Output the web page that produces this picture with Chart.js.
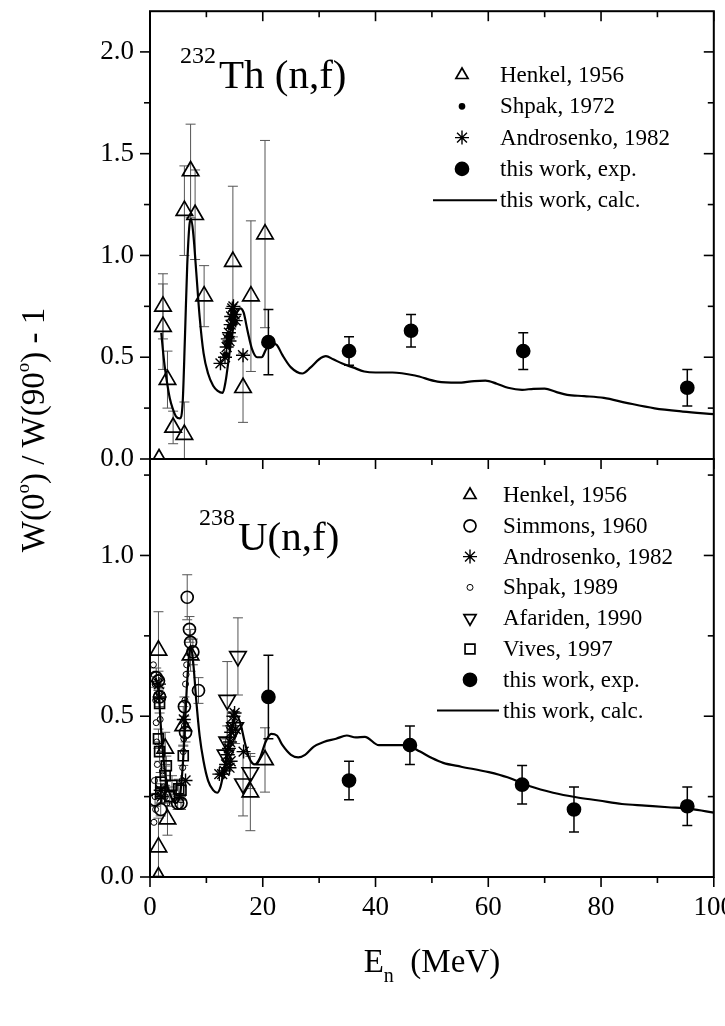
<!DOCTYPE html>
<html>
<head>
<meta charset="utf-8">
<script src="https://cdn.jsdelivr.net/npm/chart.js@4.4.0/dist/chart.umd.min.js"></script>
<style>
  html, body { margin: 0; padding: 0; background: #fff; }
  #wrap { position: relative; width: 725px; height: 1026px; }
  #wrap canvas { position: absolute; left: 0; top: 0; }
</style>
</head>
<body>
<div id="wrap">
  <canvas id="cTh" width="725" height="1026" style="width:725px;height:1026px"></canvas>
  <canvas id="cU" width="725" height="1026" style="width:725px;height:1026px"></canvas>
</div>
<script>
const FONT = '"Liberation Serif", "Times New Roman", serif';

// axis ticks
const xTicks = [0, 20, 40, 60, 80, 100];
const thTicks = [0, 0.5, 1.0, 1.5, 2.0];
const uTicks = [0, 0.5, 1.0];

// ---- 232Th(n,f) ----
const thHenkelE = [1.6, 2.3, 2.3, 3.1, 4.1, 6.1, 6.1, 7.2, 8.0, 9.6, 14.7, 16.5, 17.9, 20.4];
const thHenkelW = [0.0, 0.75, 0.65, 0.39, 0.155, 0.12, 1.22, 1.415, 1.20, 0.80, 0.97, 0.35, 0.80, 1.105];
const thHenkelErr = [0, 0.16, 0.21, 0.14, 0.08, 0.16, 0.22, 0.23, 0.22, 0.15, 0.37, 0.17, 0.37, 0.46];

const thShpakE = [13.4, 13.7, 14.0, 14.2, 14.5, 14.8, 15.0];
const thShpakW = [0.51, 0.56, 0.61, 0.65, 0.69, 0.72, 0.67];

const thAndroE = [12.5, 13.3, 13.6, 13.8, 14.0, 14.1, 14.3, 14.4, 14.6, 14.8, 15.0, 15.2, 16.5];
const thAndroW = [0.47, 0.50, 0.55, 0.59, 0.62, 0.58, 0.66, 0.70, 0.74, 0.75, 0.71, 0.68, 0.51];

const thExpE = [21.0, 35.3, 46.3, 66.2, 95.3];
const thExpW = [0.574, 0.53, 0.63, 0.53, 0.35];
const thExpErr = [0.16, 0.07, 0.08, 0.09, 0.09];

const thCalcE = [2.0, 2.5, 3.0, 3.5, 4.0, 4.6, 5.3, 5.8, 6.2, 6.6, 7.0, 7.3, 7.7, 8.2, 8.8, 9.5, 10.3, 11.2, 12.0, 12.9,
  13.4, 14.0, 14.6, 15.3, 16.0, 16.6, 17.3, 18.1, 19.0, 19.8, 20.6, 21.5, 22.5, 23.5, 25.0, 27.0, 28.5, 30.0, 31.2,
  32.5, 34.0, 36.0, 38.0, 40.0, 43.0, 47.0, 51.0, 54.5, 57.5, 59.5, 61.5, 63.5, 66.0, 68.0, 70.0, 72.0, 74.0, 77.0,
  80.5, 84.5, 89.5, 94.5, 100];
const thCalcW = [0.62, 0.48, 0.38, 0.30, 0.25, 0.21, 0.20, 0.28, 0.60, 0.95, 1.15, 1.18, 1.10, 0.92, 0.70, 0.52, 0.42, 0.36, 0.335, 0.325,
  0.38, 0.50, 0.62, 0.71, 0.74, 0.72, 0.63, 0.54, 0.50, 0.50, 0.54, 0.57, 0.56, 0.51, 0.45, 0.42, 0.45, 0.49, 0.505,
  0.49, 0.47, 0.45, 0.43, 0.425, 0.425, 0.41, 0.38, 0.375, 0.383, 0.385, 0.37, 0.35, 0.34, 0.345, 0.346, 0.33, 0.315, 0.309,
  0.30, 0.276, 0.249, 0.233, 0.22];

// ---- 238U(n,f) ----
const uHenkelE = [1.5, 1.5, 1.5, 2.7, 3.1, 5.9, 7.2, 17.8, 20.4];
const uHenkelW = [0.705, 0.093, 0.0, 0.40, 0.18, 0.47, 0.69, 0.264, 0.364];
const uHenkelErr = [0.12, 0.09, 0, 0.05, 0.05, 0.06, 0.05, 0.12, 0.10];

const uSimmonsE = [0.9, 1.1, 1.5, 1.7, 1.9, 4.9, 5.5, 6.1, 6.3, 6.6, 7.0, 7.2, 7.6, 8.6];
const uSimmonsW = [0.24, 0.62, 0.61, 0.56, 0.21, 0.23, 0.23, 0.53, 0.45, 0.87, 0.77, 0.73, 0.70, 0.58];
const uSimmonsErr = [0.02, 0.03, 0.03, 0.03, 0.02, 0.02, 0.02, 0.03, 0.03, 0.07, 0.04, 0.04, 0.04, 0.04];

const uAndroE = [1.6, 1.7, 1.9, 2.1, 6.0, 6.3, 12.3, 12.8, 13.2, 13.5, 13.8, 14.0, 14.1, 14.2, 14.3, 14.4, 14.6, 14.8, 15.0, 15.2, 16.6];
const uAndroW = [0.60, 0.56, 0.27, 0.25, 0.49, 0.30, 0.32, 0.32, 0.33, 0.35, 0.38, 0.40, 0.34, 0.42, 0.36, 0.45, 0.47, 0.50, 0.51, 0.46, 0.39];

const uShpakE = [0.6, 0.7, 0.9, 1.0, 1.1, 1.2, 1.3, 0.8, 0.9, 1.0, 0.7, 1.4, 1.6, 1.8, 2.0, 2.2, 2.4, 2.7, 3.0,
  5.5, 5.7, 5.8, 5.9, 6.0, 6.1, 6.2, 6.3, 6.4, 6.5];
const uShpakW = [0.66, 0.63, 0.60, 0.55, 0.48, 0.42, 0.35, 0.30, 0.25, 0.21, 0.17, 0.62, 0.57, 0.49, 0.40, 0.33, 0.28, 0.25, 0.23,
  0.24, 0.30, 0.34, 0.39, 0.43, 0.47, 0.55, 0.60, 0.63, 0.66];

const uAfaridenE = [13.4, 13.7, 13.7, 15.1, 15.6, 16.5, 17.8];
const uAfaridenW = [0.38, 0.42, 0.55, 0.465, 0.686, 0.29, 0.325];
const uAfaridenErr = [0.05, 0.05, 0.12, 0.05, 0.12, 0.10, 0.05];

const uVivesE = [1.5, 1.7, 1.7, 1.9, 1.9, 2.7, 2.9, 3.5, 3.9, 5.1, 5.5, 5.9];
const uVivesW = [0.43, 0.54, 0.39, 0.295, 0.26, 0.315, 0.346, 0.25, 0.285, 0.274, 0.27, 0.377];
const uVivesErr = [0.03, 0.03, 0.03, 0.03, 0.03, 0.03, 0.03, 0.03, 0.03, 0.03, 0.03, 0.03];

const uExpE = [21.0, 35.3, 46.1, 66.0, 75.2, 95.3];
const uExpW = [0.56, 0.30, 0.41, 0.287, 0.21, 0.22];
const uExpErr = [0.13, 0.06, 0.06, 0.06, 0.07, 0.06];

const uCalcE = [1.0, 1.5, 2.0, 2.5, 3.0, 3.5, 4.0, 4.5, 5.0, 5.5, 6.0, 6.5, 7.0, 7.3, 7.7, 8.2, 8.8, 9.5, 10.3, 11.2, 11.9,
  12.5, 13.2, 14.0, 14.8, 15.4, 16.0, 16.8, 17.6, 18.6, 19.5, 20.5, 21.5, 22.5, 23.5, 25.0, 26.3, 27.5, 29.0, 30.8,
  33.0, 34.9, 36.5, 38.1, 40.6, 43.0, 45.4, 47.9, 50.0, 52.0, 55.2, 60.1, 63.4, 67.4, 71.5, 75.6, 79.6, 83.7, 87.8,
  91.9, 95.9, 100];
const uCalcW = [0.62, 0.58, 0.45, 0.35, 0.29, 0.26, 0.24, 0.23, 0.235, 0.28, 0.40, 0.58, 0.70, 0.71, 0.66, 0.55, 0.44, 0.36, 0.30, 0.27, 0.262,
  0.28, 0.34, 0.42, 0.48, 0.50, 0.48, 0.42, 0.37, 0.35, 0.37, 0.42, 0.445, 0.44, 0.41, 0.38, 0.372, 0.38, 0.405, 0.42,
  0.43, 0.44, 0.434, 0.436, 0.41, 0.41, 0.41, 0.39, 0.37, 0.355, 0.343, 0.326, 0.31, 0.282, 0.262, 0.248, 0.238, 0.227, 0.222,
  0.217, 0.212, 0.2];

function pts(xs, ys) {
  return xs.map((x, i) => ({x: x, y: ys[i]}));
}

function marker(label, xs, ys, style, radius, filled, extra) {
  return Object.assign({
    label: label,
    data: pts(xs, ys),
    pointStyle: style,
    pointRadius: radius,
    pointBorderWidth: 1.7,
    pointBorderColor: '#000',
    pointBackgroundColor: filled ? '#000' : 'rgba(0,0,0,0)',
    showLine: false
  }, extra || {});
}

function calcLine(xs, ys) {
  return {
    label: 'this work, calc.',
    data: pts(xs, ys),
    showLine: true,
    pointRadius: 0,
    borderColor: '#000',
    borderWidth: 2.2,
    cubicInterpolationMode: 'monotone',
    isLine: true
  };
}

const thDatasets = [
  marker('Henkel, 1956', thHenkelE, thHenkelW, 'triangle', 9.5, false, {errors: thHenkelErr, errColor: '#555'}),
  marker('Shpak, 1972', thShpakE, thShpakW, 'circle', 2.5, true),
  marker('Androsenko, 1982', thAndroE, thAndroW, 'star', 7, false, {pointBorderWidth: 1.4}),
  marker('this work, exp.', thExpE, thExpW, 'circle', 6.5, true, {errors: thExpErr, errColor: '#000'}),
  calcLine(thCalcE, thCalcW)
];

const uDatasets = [
  marker('Henkel, 1956', uHenkelE, uHenkelW, 'triangle', 9.5, false, {errors: uHenkelErr, errColor: '#555'}),
  marker('Simmons, 1960', uSimmonsE, uSimmonsW, 'circle', 6, false, {errors: uSimmonsErr, errColor: '#555'}),
  marker('Androsenko, 1982', uAndroE, uAndroW, 'star', 7, false, {pointBorderWidth: 1.4}),
  marker('Shpak, 1989', uShpakE, uShpakW, 'circle', 3, false, {pointBorderWidth: 1}),
  marker('Afariden, 1990', uAfaridenE, uAfaridenW, 'triangle', 9.5, false, {pointRotation: 180, errors: uAfaridenErr, errColor: '#555'}),
  marker('Vives, 1997', uVivesE, uVivesW, 'rect', 7, false, {errors: uVivesErr, errColor: '#555'}),
  marker('this work, exp.', uExpE, uExpW, 'circle', 6.5, true, {errors: uExpErr, errColor: '#000'}),
  calcLine(uCalcE, uCalcW)
];

function seg(ctx, x1, y1, x2, y2) {
  ctx.beginPath();
  ctx.moveTo(x1, y1);
  ctx.lineTo(x2, y2);
  ctx.stroke();
}

// error bars, drawn under the markers
const errorBars = {
  id: 'errorBars',
  beforeDatasetsDraw(chart) {
    const {ctx, chartArea: a} = chart;
    const y = chart.scales.y;
    ctx.save();
    ctx.beginPath();
    ctx.rect(a.left, a.top, a.right - a.left, a.bottom - a.top);
    ctx.clip();
    chart.data.datasets.forEach((ds, i) => {
      if (!ds.errors) return;
      const meta = chart.getDatasetMeta(i);
      ctx.strokeStyle = ds.errColor;
      ctx.lineWidth = ds.errColor === '#000' ? 1.5 : 1;
      meta.data.forEach((pt, j) => {
        const e = ds.errors[j];
        if (!e) return;
        const v = ds.data[j].y;
        const y1 = y.getPixelForValue(v + e);
        const y2 = y.getPixelForValue(v - e);
        seg(ctx, pt.x, y1, pt.x, y2);
        seg(ctx, pt.x - 5, y1, pt.x + 5, y1);
        seg(ctx, pt.x - 5, y2, pt.x + 5, y2);
      });
    });
    ctx.restore();
  }
};

// frame and inward/outward tick marks
const frameTicks = {
  id: 'frameTicks',
  afterDraw(chart, args, opts) {
    const {ctx, chartArea: a} = chart;
    const x = chart.scales.x, y = chart.scales.y;
    ctx.save();
    ctx.strokeStyle = '#000';
    ctx.lineWidth = 2;
    ctx.strokeRect(a.left, a.top, a.right - a.left, a.bottom - a.top);
    ctx.lineWidth = 1.6;
    const yMajor = opts.yTicks;
    const yStep = yMajor[1] - yMajor[0];
    for (let v = 0; v <= y.max + 1e-9; v += yStep / 2) {
      const py = y.getPixelForValue(v);
      const big = Math.abs(v / yStep - Math.round(v / yStep)) < 1e-6;
      const L = big ? 10 : 6;
      seg(ctx, a.left - L, py, a.left, py);
      seg(ctx, a.right - L, py, a.right, py);
    }
    const xStep = xTicks[1] - xTicks[0];
    for (let v = 0; v <= x.max + 1e-9; v += xStep / 2) {
      const px = x.getPixelForValue(v);
      const L = v % xStep === 0 ? 10 : 6;
      if (opts.topTicks) seg(ctx, px, a.top, px, a.top + L);
      seg(ctx, px, a.bottom, px, a.bottom + L);
    }
    ctx.restore();
  }
};

function rich(ctx, parts, x0, baseY, center) {
  let w = 0;
  parts.forEach(p => {
    ctx.font = p.size + 'px ' + FONT;
    p.w = ctx.measureText(p.t).width + (p.gap || 0);
    w += p.w;
  });
  let x = center ? x0 - w / 2 : x0;
  parts.forEach(p => {
    ctx.font = p.size + 'px ' + FONT;
    ctx.fillText(p.t, x, baseY + (p.dy || 0));
    x += p.w;
  });
}

// legend and labels
const annotate = {
  id: 'annotate',
  afterDraw(chart, args, opts) {
    const ctx = chart.ctx;
    ctx.save();
    ctx.fillStyle = '#000';
    ctx.strokeStyle = '#000';
    ctx.textBaseline = 'alphabetic';
    ctx.textAlign = 'left';
    // panel label
    rich(ctx, [
      {t: opts.nucleus, size: 24, dy: -25, gap: 3},
      {t: opts.reaction, size: 41}
    ], opts.labelX, opts.labelY, false);
    // legend
    const L = opts.legend;
    chart.data.datasets.forEach((ds, i) => {
      const ry = L.y0 + i * L.dy;
      if (ds.isLine) {
        ctx.lineWidth = 2;
        seg(ctx, L.lineX0, ry, L.lineX1, ry);
      } else {
        ctx.lineWidth = ds.pointBorderWidth;
        ctx.fillStyle = ds.pointBackgroundColor;
        Chart.helpers.drawPoint(ctx, {
          pointStyle: ds.pointStyle,
          rotation: ds.pointRotation || 0,
          radius: Math.min(ds.pointRadius, 7),
          borderWidth: ds.pointBorderWidth
        }, L.markX, ry);
      }
      ctx.fillStyle = '#000';
      ctx.font = '23px ' + FONT;
      ctx.textBaseline = 'middle';
      ctx.fillText(ds.label, L.textX, ry + 1);
      ctx.textBaseline = 'alphabetic';
    });
    if (opts.titles) {
      // x title
      rich(ctx, [
        {t: 'E', size: 33},
        {t: 'n', size: 20, dy: 10},
        {t: '  (MeV)', size: 33}
      ], (chart.chartArea.left + chart.chartArea.right) / 2, 972, true);
      // y title
      ctx.translate(33, 430);
      ctx.rotate(-Math.PI / 2);
      rich(ctx, [
        {t: 'W(0', size: 33},
        {t: 'o', size: 19, dy: -15},
        {t: ') / W(90', size: 33},
        {t: 'o', size: 19, dy: -15},
        {t: ') - 1', size: 33}
      ], 0, 11, true);
    }
    ctx.restore();
  }
};

function noPad(s) {
  s.paddingTop = 0;
  s.paddingBottom = 0;
  s.paddingLeft = 0;
  s.paddingRight = 0;
}

function buildChart(id, datasets, yMax, yTicks, pad, showX, annot, topTicks) {
  return new Chart(document.getElementById(id), {
    type: 'scatter',
    data: {datasets: datasets},
    options: {
      responsive: false,
      animation: false,
      devicePixelRatio: 1,
      layout: {padding: pad},
      plugins: {
        legend: {display: false},
        tooltip: {enabled: false},
        frameTicks: {yTicks: yTicks, topTicks: topTicks},
        annotate: annot
      },
      scales: {
        x: {
          type: 'linear',
          min: 0,
          max: 100,
          display: showX,
          afterFit: s => { s.height = showX ? 60 : 0; noPad(s); },
          afterBuildTicks: s => { s.ticks = xTicks.map(v => ({value: v})); },
          grid: {display: false, drawTicks: false},
          border: {display: false},
          ticks: {
            color: '#000',
            font: {family: FONT, size: 27},
            padding: 15,
            maxRotation: 0,
            callback: v => String(v)
          }
        },
        y: {
          type: 'linear',
          min: 0,
          max: yMax,
          afterFit: s => { s.width = 60; noPad(s); },
          afterBuildTicks: s => { s.ticks = yTicks.map(v => ({value: v})); },
          grid: {display: false, drawTicks: false},
          border: {display: false},
          ticks: {
            color: '#000',
            font: {family: FONT, size: 27},
            padding: 16,
            callback: v => v.toFixed(1)
          }
        }
      }
    },
    plugins: [errorBars, frameTicks, annotate]
  });
}

buildChart('cTh', thDatasets, 2.2, thTicks,
  {left: 90, right: 8, top: 8, bottom: 1026 - 459}, false,
  {
    nucleus: '232', reaction: 'Th (n,f)', labelX: 180, labelY: 88,
    legend: {y0: 75, dy: 31.3, markX: 462, textX: 500, lineX0: 433, lineX1: 497}
  }, true);

buildChart('cU', uDatasets, 1.3, uTicks,
  {left: 90, right: 8, top: 459, bottom: 1026 - 877 - 60}, true,
  {
    nucleus: '238', reaction: 'U(n,f)', labelX: 199, labelY: 550,
    legend: {y0: 495, dy: 30.8, markX: 470, textX: 503, lineX0: 437, lineX1: 499},
    titles: true
  }, false);
</script>
</body>
</html>
